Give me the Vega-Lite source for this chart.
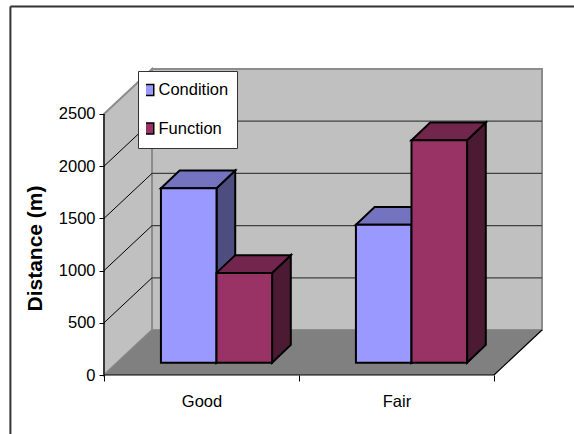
{
  "$schema": "https://vega.github.io/schema/vega-lite/v6.json",
  "width": 438,
  "height": 306,
  "autosize": "none",
  "padding": {"left": 104, "top": 69, "right": 32, "bottom": 59},
  "background": "white",
  "view": {"stroke": null},
  "config": {
    "font": "Liberation Sans",
    "legend": {
      "labelFont": "Liberation Sans",
      "labelFontSize": 16.5,
      "labelColor": "black"
    }
  },
  "datasets": {
    "bars": [
      {"category": "Good", "series": "Condition", "value": 1670},
      {"category": "Good", "series": "Function", "value": 860},
      {"category": "Fair", "series": "Condition", "value": 1320},
      {"category": "Fair", "series": "Function", "value": 2130}
    ],
    "gridValues": [{"v": 500}, {"v": 1000}, {"v": 1500}, {"v": 2000}]
  },
  "encoding": {
    "x": {
      "field": "xa",
      "type": "quantitative",
      "scale": {"domain": [0, 2.2463], "nice": false, "zero": false},
      "axis": {
        "title": null,
        "grid": false,
        "domain": false,
        "zindex": 1,
        "values": [0, 0.5, 1, 1.5, 2],
        "labelExpr": "datum.value == 0.5 ? 'Good' : datum.value == 1.5 ? 'Fair' : ''",
        "labelFont": "Liberation Sans",
        "labelFontSize": 16.5,
        "labelColor": "black",
        "labelPadding": 12,
        "labelFlush": false,
        "labelOverlap": false,
        "tickColor": "black",
        "tickSize": 6,
        "tickOpacity": {"condition": {"test": "datum.value % 1 == 0", "value": 1}, "value": 0}
      }
    },
    "y": {
      "field": "ya",
      "type": "quantitative",
      "stack": null,
      "scale": {"domain": [0, 2931], "nice": false, "zero": false},
      "axis": {
        "title": "Distance (m)",
        "titleFont": "Liberation Sans",
        "titleFontSize": 21,
        "titleFontWeight": "bold",
        "titleColor": "black",
        "titleX": -59,
        "titleY": 179,
        "grid": false,
        "domain": false,
        "zindex": 1,
        "values": [0, 500, 1000, 1500, 2000, 2500],
        "format": "d",
        "labelFont": "Liberation Sans",
        "labelFontSize": 16.5,
        "labelColor": "black",
        "labelPadding": 4,
        "labelFlush": false,
        "labelOverlap": false,
        "tickColor": "black",
        "tickSize": 5
      }
    }
  },
  "layer": [
    {
      "description": "outer chart frame, left and top edges",
      "data": {"values": [
        {"xa": -0.48, "xb": -0.48, "ya": 3530, "yb": -700},
        {"xa": -0.48, "xb": 3, "ya": 3530, "yb": 3530}
      ]},
      "mark": {"type": "rule", "stroke": "#333333", "strokeWidth": 2},
      "encoding": {
        "x2": {"field": "xb"},
        "y2": {"field": "yb"}
      }
    },
    {
      "description": "left wall",
      "data": {"values": [{"d": 0}, {"d": 1}]},
      "transform": [
        {"calculate": "datum.d * 0.2463", "as": "xa"},
        {"calculate": "datum.d * 431", "as": "ya"},
        {"calculate": "2500 + datum.d * 431", "as": "yb"}
      ],
      "mark": {"type": "area", "fill": "#c0c0c0", "stroke": "#8c8c8c", "strokeWidth": 2, "opacity": 1},
      "encoding": {"y2": {"field": "yb"}}
    },
    {
      "description": "back wall",
      "data": {"values": [{"d": 0}, {"d": 2}]},
      "transform": [
        {"calculate": "datum.d + 0.2463", "as": "xa"},
        {"calculate": "431", "as": "ya"},
        {"calculate": "2931", "as": "yb"}
      ],
      "mark": {"type": "area", "fill": "#c0c0c0", "stroke": "#8c8c8c", "strokeWidth": 2, "opacity": 1},
      "encoding": {"y2": {"field": "yb"}}
    },
    {
      "description": "floor",
      "data": {"values": [
        {"xa": 0, "ya": 0, "yb": 0},
        {"xa": 0.2463, "ya": 0, "yb": 431},
        {"xa": 2, "ya": 0, "yb": 431},
        {"xa": 2.2463, "ya": 431, "yb": 431}
      ]},
      "mark": {"type": "area", "fill": "#808080", "opacity": 1},
      "encoding": {"y2": {"field": "yb"}}
    },
    {
      "description": "gridlines on the back wall",
      "data": {"name": "gridValues"},
      "transform": [
        {"calculate": "datum.v + 431", "as": "ya"},
        {"calculate": "0.2463", "as": "xa"},
        {"calculate": "2.2463", "as": "xb"}
      ],
      "mark": {"type": "rule", "stroke": "#404040", "strokeWidth": 1.2},
      "encoding": {"x2": {"field": "xb"}}
    },
    {
      "description": "gridlines running across the left wall",
      "data": {"name": "gridValues"},
      "transform": [
        {"calculate": "datum.v", "as": "ya"},
        {"calculate": "datum.v + 431", "as": "yb"},
        {"calculate": "0", "as": "xa"},
        {"calculate": "0.2463", "as": "xb"}
      ],
      "mark": {"type": "rule", "stroke": "black", "strokeWidth": 1},
      "encoding": {"x2": {"field": "xb"}, "y2": {"field": "yb"}}
    },
    {
      "description": "front axis lines and the floor's right edge",
      "data": {"values": [
        {"xa": 0, "xb": 0, "ya": 0, "yb": 2500},
        {"xa": 0, "xb": 2, "ya": 0, "yb": 0},
        {"xa": 2, "xb": 2.2463, "ya": 0, "yb": 431}
      ]},
      "mark": {"type": "rule", "stroke": "black", "strokeWidth": 1.2},
      "encoding": {"x2": {"field": "xb"}, "y2": {"field": "yb"}}
    },
    {
      "description": "right-hand face of each bar",
      "data": {"name": "bars"},
      "transform": [
        {"calculate": "(datum.category == 'Good' ? 0 : 1) + 0.292 + (datum.series == 'Condition' ? 0 : 0.285)", "as": "left"},
        {"calculate": "[0, 1]", "as": "t"},
        {"flatten": ["t"]},
        {"calculate": "datum.left + 0.285 + datum.t * 0.096", "as": "xa"},
        {"calculate": "118 + datum.t * 170", "as": "ya"},
        {"calculate": "118 + datum.t * 170 + datum.value", "as": "yb"},
        {"calculate": "datum.category + datum.series", "as": "barId"}
      ],
      "mark": {"type": "area", "stroke": "black", "strokeWidth": 2, "opacity": 1, "strokeJoin": "miter"},
      "encoding": {
        "y2": {"field": "yb"},
        "detail": {"field": "barId"},
        "fill": {"condition": {"test": "datum.series == 'Condition'", "value": "#4d4d80"}, "value": "#4d1a33"}
      }
    },
    {
      "description": "top face of each bar",
      "data": {"name": "bars"},
      "transform": [
        {"calculate": "(datum.category == 'Good' ? 0 : 1) + 0.292 + (datum.series == 'Condition' ? 0 : 0.285)", "as": "left"},
        {"calculate": "[0, 1, 2, 3]", "as": "t"},
        {"flatten": ["t"]},
        {"calculate": "[datum.left, datum.left + 0.096, datum.left + 0.285, datum.left + 0.381][datum.t]", "as": "xa"},
        {"calculate": "118 + datum.value + (datum.t == 3 ? 170 : 0)", "as": "ya"},
        {"calculate": "118 + datum.value + (datum.t == 0 ? 0 : 170)", "as": "yb"},
        {"calculate": "datum.category + datum.series", "as": "barId"}
      ],
      "mark": {"type": "area", "stroke": "black", "strokeWidth": 2, "opacity": 1, "strokeJoin": "miter"},
      "encoding": {
        "y2": {"field": "yb"},
        "detail": {"field": "barId"},
        "fill": {"condition": {"test": "datum.series == 'Condition'", "value": "#7373bf"}, "value": "#73264d"}
      }
    },
    {
      "description": "front face of each bar, carrying the legend",
      "data": {"name": "bars"},
      "transform": [
        {"calculate": "(datum.category == 'Good' ? 0 : 1) + 0.292 + (datum.series == 'Condition' ? 0 : 0.285)", "as": "xa"},
        {"calculate": "datum.xa + 0.285", "as": "xb"},
        {"calculate": "118", "as": "ya"},
        {"calculate": "118 + datum.value", "as": "yb"}
      ],
      "mark": {"type": "rect", "stroke": "black", "strokeWidth": 2, "opacity": 1},
      "encoding": {
        "x2": {"field": "xb"},
        "y2": {"field": "yb"},
        "color": {
          "field": "series",
          "type": "nominal",
          "scale": {"domain": ["Condition", "Function"], "range": ["#9999ff", "#993366"]},
          "legend": {
            "title": null,
            "orient": "none",
            "legendX": 34,
            "legendY": 2,
            "fillColor": "white",
            "strokeColor": "#333333",
            "padding": 8,
            "clipHeight": 22,
            "rowPadding": 16.5,
            "symbolType": "square",
            "symbolSize": 121,
            "symbolStrokeColor": "black",
            "symbolStrokeWidth": 1.5,
            "symbolOffset": -6,
            "labelOffset": 2,
            "labelLimit": 100
          }
        }
      }
    }
  ]
}
